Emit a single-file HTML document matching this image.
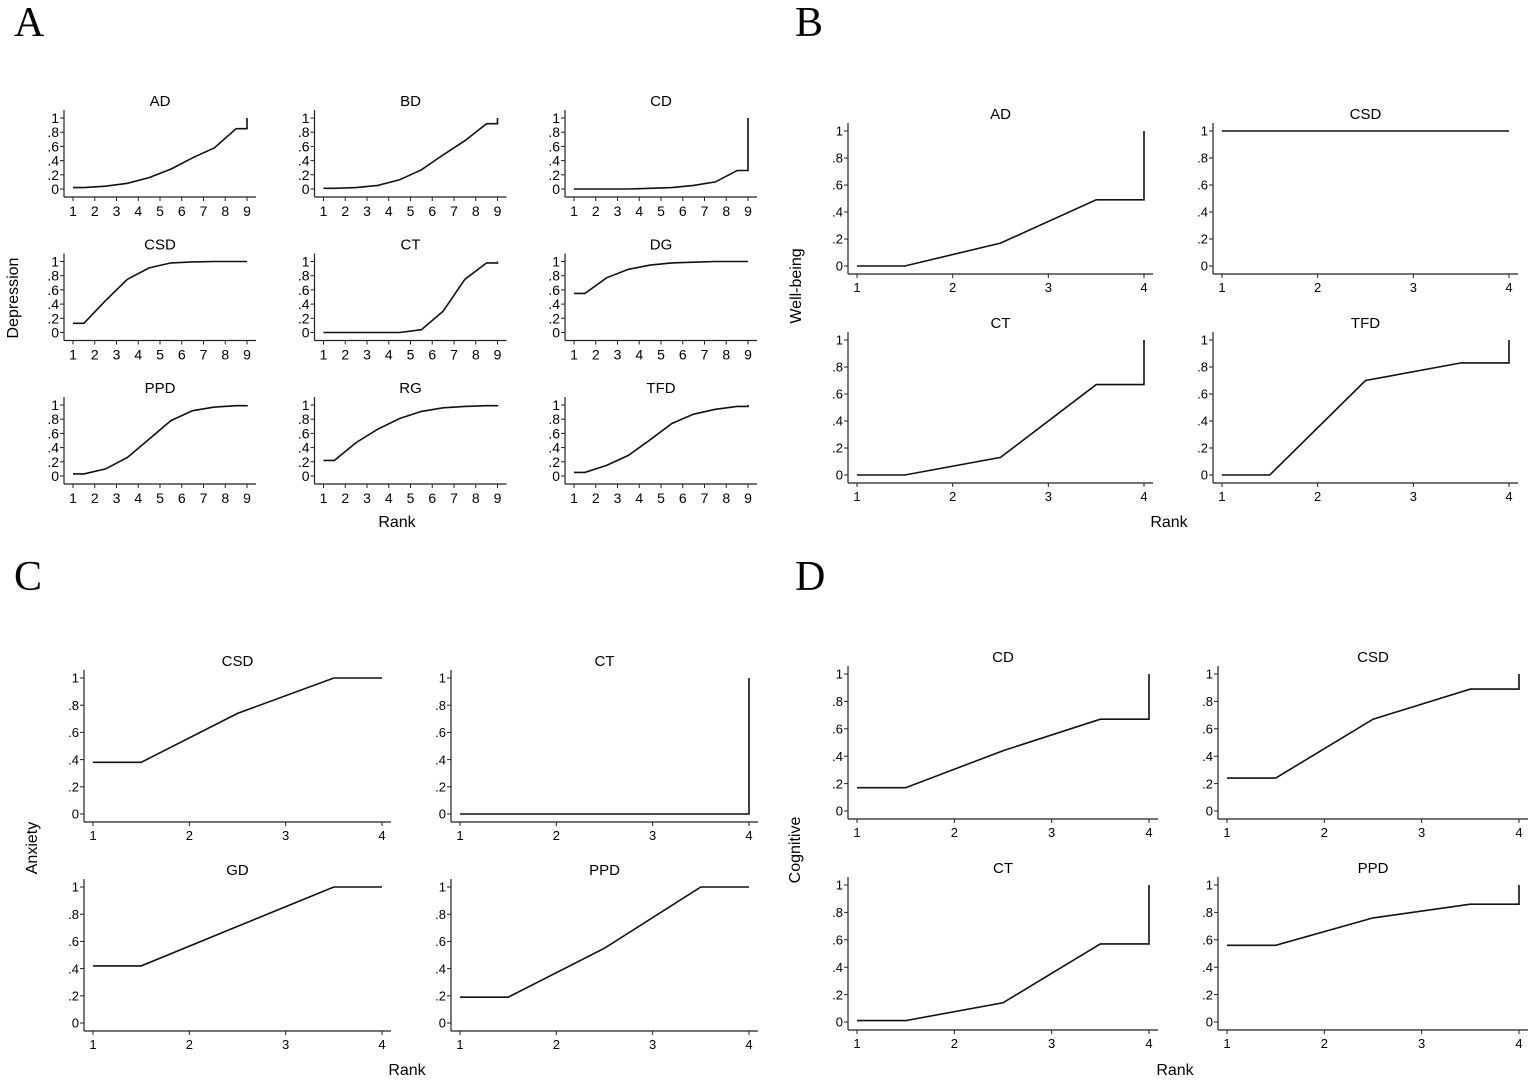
<!DOCTYPE html>
<html><head><meta charset="utf-8"><style>
html,body{margin:0;padding:0;background:#fff;}
svg{display:block;font-family:"Liberation Sans",Arial,sans-serif;}
</style></head><body>
<svg id="chart" width="1535" height="1081" viewBox="0 0 1535 1081" xmlns="http://www.w3.org/2000/svg">
<text x="14" y="36" font-family="Liberation Serif,serif" font-size="42">A</text>
<text x="795" y="36" font-family="Liberation Serif,serif" font-size="42">B</text>
<text x="14" y="590" font-family="Liberation Serif,serif" font-size="42">C</text>
<text x="795" y="590" font-family="Liberation Serif,serif" font-size="42">D</text>
<text transform="translate(18,298) rotate(-90)" text-anchor="middle" font-size="16">Depression</text>
<text x="397" y="527" text-anchor="middle" font-size="16">Rank</text>
<text transform="translate(801,286) rotate(-90)" text-anchor="middle" font-size="16">Well-being</text>
<text x="1169" y="527" text-anchor="middle" font-size="16">Rank</text>
<text transform="translate(37,848) rotate(-90)" text-anchor="middle" font-size="16">Anxiety</text>
<text x="407" y="1075" text-anchor="middle" font-size="16">Rank</text>
<text transform="translate(800,850) rotate(-90)" text-anchor="middle" font-size="16">Cognitive</text>
<text x="1175" y="1075" text-anchor="middle" font-size="16">Rank</text>
</svg>
<script>
// Cumulative ranking probabilities (value at ranks 1..k-1; rank k = 1)
const depressionNames = ["AD","BD","CD","CSD","CT","DG","PPD","RG","TFD"];
const depressionAD  = [0.02,0.04,0.08,0.16,0.28,0.44,0.58,0.85];
const depressionBD  = [0.01,0.02,0.05,0.13,0.27,0.48,0.68,0.92];
const depressionCD  = [0,0,0,0.01,0.02,0.05,0.10,0.26];
const depressionCSD = [0.13,0.45,0.75,0.91,0.98,0.995,1,1];
const depressionCT  = [0,0,0,0,0.04,0.30,0.75,0.98];
const depressionDG  = [0.55,0.77,0.89,0.95,0.98,0.99,1,1];
const depressionPPD = [0.03,0.10,0.26,0.52,0.78,0.92,0.97,0.99];
const depressionRG  = [0.22,0.47,0.66,0.81,0.91,0.96,0.98,0.99];
const depressionTFD = [0.05,0.15,0.29,0.51,0.74,0.87,0.94,0.98];
const wellbeingNames = ["AD","CSD","CT","TFD"];
const wellbeingAD  = [0,0.17,0.49];
const wellbeingCSD = [1,1,1];
const wellbeingCT  = [0,0.13,0.67];
const wellbeingTFD = [0,0.70,0.83];
const anxietyNames = ["CSD","CT","GD","PPD"];
const anxietyCSD = [0.38,0.74,1];
const anxietyCT  = [0,0,0];
const anxietyGD  = [0.42,0.71,1];
const anxietyPPD = [0.19,0.55,1];
const cognitiveNames = ["CD","CSD","CT","PPD"];
const cognitiveCD  = [0.17,0.44,0.67];
const cognitiveCSD = [0.24,0.67,0.89];
const cognitiveCT  = [0.01,0.14,0.57];
const cognitivePPD = [0.56,0.76,0.86];
const yTickValues = [0,0.2,0.4,0.6,0.8,1];
const yTickLabels = ["0",".2",".4",".6",".8","1"];

const svg = document.getElementById('chart');
const NS = 'http://www.w3.org/2000/svg';
function mk(tag, attrs){const e=document.createElementNS(NS,tag);for(const k in attrs)e.setAttribute(k,attrs[k]);svg.appendChild(e);return e;}

function drawPlot(name, vals, g){
  const k = vals.length+1;
  const xs = v => g.x1 + (v-1)*(g.xk-g.x1)/(k-1);
  const ys = v => g.y0 - v*(g.y0-g.y1);
  const slug = g.prefix+'-'+name.toLowerCase();
  const title = mk('text',{x:(g.x1+g.xk)/2, y:g.y1-12, 'text-anchor':'middle','font-size':g.tf});
  title.textContent = name;
  
  
  const axY = g.x1-9, axX = g.y0+8;
  const ya = mk('line',{x1:axY,y1:g.y1-8,x2:axY,y2:axX,stroke:'#222','stroke-width':1.2});
  
  
  const xa = mk('line',{x1:axY,y1:axX,x2:g.xk+9,y2:axX,stroke:'#222','stroke-width':1.2});
  
  
  yTickValues.forEach((v,i)=>{
    mk('line',{x1:axY-4,y1:ys(v),x2:axY,y2:ys(v),stroke:'#222','stroke-width':1});
    const t = mk('text',{x:axY-5,y:ys(v)+g.lf*0.36,'text-anchor':'end','font-size':g.lf});
    t.textContent = yTickLabels[i];
    
    
  });
  for(let r=1;r<=k;r++){
    mk('line',{x1:xs(r),y1:axX,x2:xs(r),y2:axX+4,stroke:'#222','stroke-width':1});
    const t = mk('text',{x:xs(r),y:axX+g.lf+5,'text-anchor':'middle','font-size':g.lf});
    t.textContent = r;
    
    
  }
  const pts = [[1,vals[0]],[1.5,vals[0]]];
  for(let i=1;i<vals.length;i++) pts.push([i+1.5, vals[i]]);
  pts.push([k, vals[vals.length-1]]);
  pts.push([k, 1]);
  const p = mk('polyline',{points:pts.map(q=>xs(q[0]).toFixed(1)+','+ys(q[1]).toFixed(1)).join(' '),fill:'none',stroke:'#111','stroke-width':1.6});
  
  
}

const depData = [depressionAD,depressionBD,depressionCD,depressionCSD,depressionCT,depressionDG,depressionPPD,depressionRG,depressionTFD];
depressionNames.forEach((n,i)=>{
  const c=i%3, r=Math.floor(i/3);
  drawPlot(n, depData[i], {prefix:'depression',x1:73+c*250.5,xk:247+c*250.5,y0:189+r*143.5,y1:118+r*143.5,tf:15,lf:14});
});
function grid4(prefix, names, data, b){
  names.forEach((n,i)=>{
    const c=i%2, r=Math.floor(i/2);
    drawPlot(n, data[i], {prefix:prefix,x1:b.x1+c*b.dx,xk:b.xk+c*b.dx,y0:b.y0+r*b.dy,y1:b.y1+r*b.dy,tf:15,lf:13});
  });
}
grid4('wellbeing', wellbeingNames, [wellbeingAD,wellbeingCSD,wellbeingCT,wellbeingTFD], {x1:857,xk:1144,dx:365,y0:266,y1:131,dy:209});
grid4('anxiety', anxietyNames, [anxietyCSD,anxietyCT,anxietyGD,anxietyPPD], {x1:93,xk:382,dx:367,y0:814,y1:678,dy:209});
grid4('cognitive', cognitiveNames, [cognitiveCD,cognitiveCSD,cognitiveCT,cognitivePPD], {x1:857,xk:1149,dx:370,y0:811,y1:674,dy:211});
</script>
</body></html>
